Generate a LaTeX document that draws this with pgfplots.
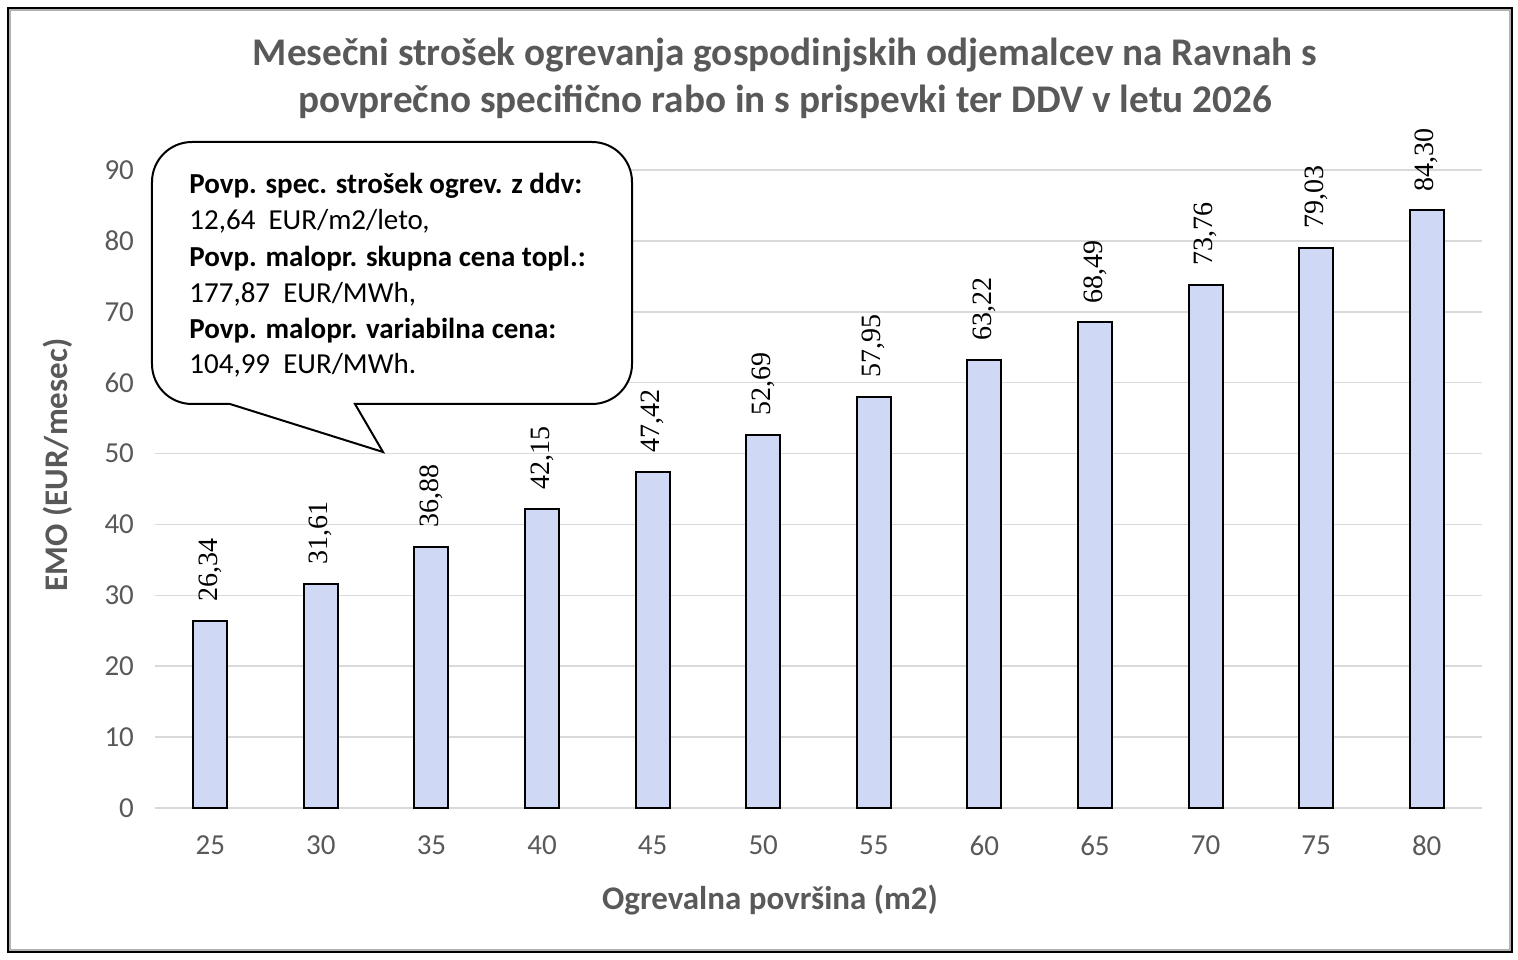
\documentclass[border=0pt]{standalone}
\usepackage{fontspec}
\setmainfont{Carlito}
\newfontfamily\lserif{Liberation Serif}
\usepackage{pgfplots}
\usepackage{pgfplotstable}
\pgfplotsset{compat=1.18}
\definecolor{txt}{HTML}{595959}
\definecolor{gridc}{HTML}{D9D9D9}
\definecolor{barfill}{RGB}{207,217,246}
\pgfplotstableread{
x y lab
25 26.34 26,34
30 31.61 31,61
35 36.88 36,88
40 42.15 42,15
45 47.42 47,42
50 52.69 52,69
55 57.95 57,95
60 63.22 63,22
65 68.49 68,49
70 73.76 73,76
75 79.03 79,03
80 84.30 84,30
}\datatable
\begin{document}
\begin{tikzpicture}[x=1pt,y=1pt]
\useasboundingbox (-77.5,-75.5) rectangle (681.5,404);
\draw[gray!60, line width=0.8pt] (-72.5,-71) rectangle (677.5,399);
\draw[line width=1.2pt] (-73.5,-72) rectangle (678.5,400);
\begin{axis}[at={(0,0)}, anchor=south west, scale only axis,
  width=663.5pt, height=319pt,
  xmin=22.5, xmax=82.5, ymin=0, ymax=90,
  ytick={0,10,...,90}, xtick=data,
  axis line style={draw=none},
  major tick length=0pt,
  ymajorgrids, grid style={gridc, line width=0.8pt},
  /pgf/number format/assume math mode=true,
  ticklabel style={font=\fontsize{14.5}{16}\selectfont, text=txt},
  yticklabel style={xshift=-7pt},
  xticklabel style={yshift=-10.5pt},
  clip=false,
]
\addplot[ybar, bar width=17pt, fill=barfill, draw=black, line width=1pt]
  table[x=x, y=y] {\datatable};
\foreach \i in {0,...,11}{
  \pgfplotstablegetelem{\i}{x}\of\datatable \let\xx\pgfplotsretval
  \pgfplotstablegetelem{\i}{y}\of\datatable \let\yy\pgfplotsretval
  \edef\tmp{\noexpand\coordinate (p\i) at (axis cs:\xx,\yy);}
  \tmp
}
\end{axis}
% value labels at the bar tops (positions taken from the data table)
\foreach \i in {0,...,11}{
  \pgfplotstablegetelem{\i}{lab}\of\datatable
  \node[rotate=90, anchor=west, inner sep=0pt, inner xsep=9.5pt, text=black,
     font=\lserif\fontsize{14}{15}\selectfont] at (p\i) {\pgfplotsretval};
}
% title
\node[font=\bfseries\fontsize{19.6}{22}\selectfont, text=txt] at (315,376.5) {Mesečni strošek ogrevanja gospodinjskih odjemalcev na Ravnah s};
\node[font=\bfseries\fontsize{19.6}{22}\selectfont, text=txt] at (315,353) {povprečno specifično rabo in s prispevki ter DDV v letu 2026};
% axis titles
\node[font=\bfseries\fontsize{16.5}{18}\selectfont, text=txt, rotate=90] at (-48.5,171.5) {EMO (EUR/mesec)};
\node[font=\bfseries\fontsize{16.5}{18}\selectfont, text=txt] at (307.5,-46) {Ogrevalna površina (m2)};
% callout
\draw[line width=1pt, fill=white] (100,202) -- (218.5,202) arc[start angle=-90, end angle=0, radius=20]
  -- (238.5,313) arc[start angle=0, end angle=90, radius=20]
  -- (18.5,333) arc[start angle=90, end angle=180, radius=20]
  -- (-1.5,222) arc[start angle=180, end angle=270, radius=20]
  -- (37.5,202) -- (114,178) -- cycle;
\begin{scope}[every node/.style={anchor=base west, inner sep=0pt, font=\fontsize{14.5}{16}\selectfont, text=black}]
\node at (17,307) {\bfseries Povp. spec. strošek ogrev. z ddv:};
\node at (17,289) {12,64\ \ EUR/m2/leto,};
\node at (17,270.5) {\bfseries Povp. malopr. skupna cena topl.:};
\node at (17,252.5) {177,87\ \ EUR/MWh,};
\node at (17,234.5) {\bfseries Povp. malopr. variabilna cena:};
\node at (17,217) {104,99\ \ EUR/MWh.};
\end{scope}
\end{tikzpicture}
\end{document}
